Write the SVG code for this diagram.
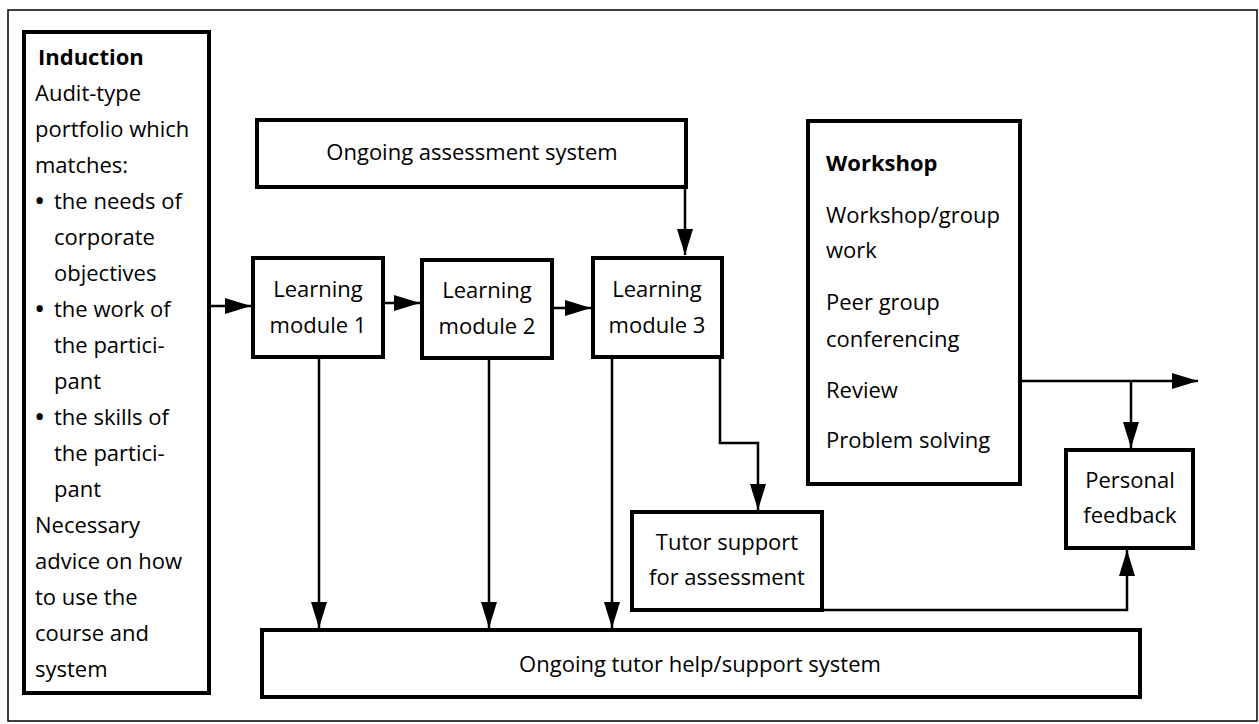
<svg xmlns="http://www.w3.org/2000/svg" width="1259" height="724" viewBox="0 0 1259 724">
<style>
  .box { fill: #fff; stroke: #000; stroke-width: 4; }
  .frame { fill: none; stroke: #000; stroke-width: 1.5; }
  .t { font-family: "Open Sans", "Liberation Sans", sans-serif; font-size: 22px; fill: #000; }
  .b { font-weight: bold; }
  .c { text-anchor: middle; }
  .bul { font-size: 30px; }
  .ln { fill: none; stroke: #000; stroke-width: 2.5; }
</style>
<defs>
  <marker id="arr" markerUnits="userSpaceOnUse" markerWidth="28" markerHeight="16" refX="26" refY="8" orient="auto">
    <path d="M0,0 L26,8 L0,16 z" fill="#000"/>
  </marker>
</defs>
<rect width="1259" height="724" fill="#fff"/>
<rect class="frame" x="8" y="10" width="1249" height="711"/>

<g id="connectors">
  <line class="ln" x1="210" y1="306" x2="251" y2="306" marker-end="url(#arr)"/>
  <line class="ln" x1="385" y1="303" x2="420" y2="303" marker-end="url(#arr)"/>
  <line class="ln" x1="554" y1="308" x2="591" y2="308" marker-end="url(#arr)"/>
  <line class="ln" x1="685" y1="189" x2="685" y2="255" marker-end="url(#arr)"/>
  <line class="ln" x1="319" y1="359" x2="319" y2="628" marker-end="url(#arr)"/>
  <line class="ln" x1="489" y1="360" x2="489" y2="628" marker-end="url(#arr)"/>
  <line class="ln" x1="612" y1="359" x2="612" y2="628" marker-end="url(#arr)"/>
  <polyline class="ln" points="720,359 720,443 758,443 758,510" marker-end="url(#arr)"/>
  <polyline class="ln" points="822,610 1127,610 1127,550" marker-end="url(#arr)"/>
  <line class="ln" x1="1020" y1="381" x2="1198" y2="381" marker-end="url(#arr)"/>
  <line class="ln" x1="1131" y1="381" x2="1131" y2="448" marker-end="url(#arr)"/>
</g>

<g id="induction">
  <rect class="box" x="24" y="32" width="185" height="661"/>
  <text class="t b" x="38" y="65">Induction</text>
  <text class="t" x="35" y="101">Audit-type</text>
  <text class="t" x="35" y="137">portfolio which</text>
  <text class="t" x="35" y="173">matches:</text>
  <text class="t" y="209"><tspan class="bul" x="34" dy="2">•</tspan><tspan x="54" dy="-2">the needs of</tspan></text>
  <text class="t" x="54" y="245">corporate</text>
  <text class="t" x="54" y="281">objectives</text>
  <text class="t" y="317"><tspan class="bul" x="34" dy="2">•</tspan><tspan x="54" dy="-2">the work of</tspan></text>
  <text class="t" x="54" y="353">the partici-</text>
  <text class="t" x="54" y="389">pant</text>
  <text class="t" y="425"><tspan class="bul" x="34" dy="2">•</tspan><tspan x="54" dy="-2">the skills of</tspan></text>
  <text class="t" x="54" y="461">the partici-</text>
  <text class="t" x="54" y="497">pant</text>
  <text class="t" x="35" y="533">Necessary</text>
  <text class="t" x="35" y="569">advice on how</text>
  <text class="t" x="35" y="605">to use the</text>
  <text class="t" x="35" y="641">course and</text>
  <text class="t" x="35" y="677">system</text>
</g>

<g id="assessment">
  <rect class="box" x="257" y="120" width="429" height="67"/>
  <text class="t c" x="472" y="160">Ongoing assessment system</text>
</g>

<g id="module1">
  <rect class="box" x="253" y="258" width="130" height="99"/>
  <text class="t c" x="318" y="297">Learning</text>
  <text class="t c" x="318" y="333">module 1</text>
</g>
<g id="module2">
  <rect class="box" x="422" y="260" width="130" height="98"/>
  <text class="t c" x="487" y="298">Learning</text>
  <text class="t c" x="487" y="334">module 2</text>
</g>
<g id="module3">
  <rect class="box" x="593" y="258" width="129" height="99"/>
  <text class="t c" x="657" y="297">Learning</text>
  <text class="t c" x="657" y="333">module 3</text>
</g>

<g id="workshop">
  <rect class="box" x="808" y="121" width="212" height="363"/>
  <text class="t b" x="826" y="171">Workshop</text>
  <text class="t" x="826" y="223">Workshop/group</text>
  <text class="t" x="826" y="258">work</text>
  <text class="t" x="826" y="310">Peer group</text>
  <text class="t" x="826" y="347">conferencing</text>
  <text class="t" x="826" y="398">Review</text>
  <text class="t" x="826" y="448">Problem solving</text>
</g>

<g id="tutor-support">
  <rect class="box" x="632" y="512" width="190" height="98"/>
  <text class="t c" x="727" y="550">Tutor support</text>
  <text class="t c" x="727" y="585">for assessment</text>
</g>

<g id="personal-feedback">
  <rect class="box" x="1066" y="450" width="127" height="98"/>
  <text class="t c" x="1130" y="488">Personal</text>
  <text class="t c" x="1130" y="523">feedback</text>
</g>

<g id="tutor-help">
  <rect class="box" x="262" y="630" width="878" height="67"/>
  <text class="t c" x="700" y="672">Ongoing tutor help/support system</text>
</g>
</svg>
